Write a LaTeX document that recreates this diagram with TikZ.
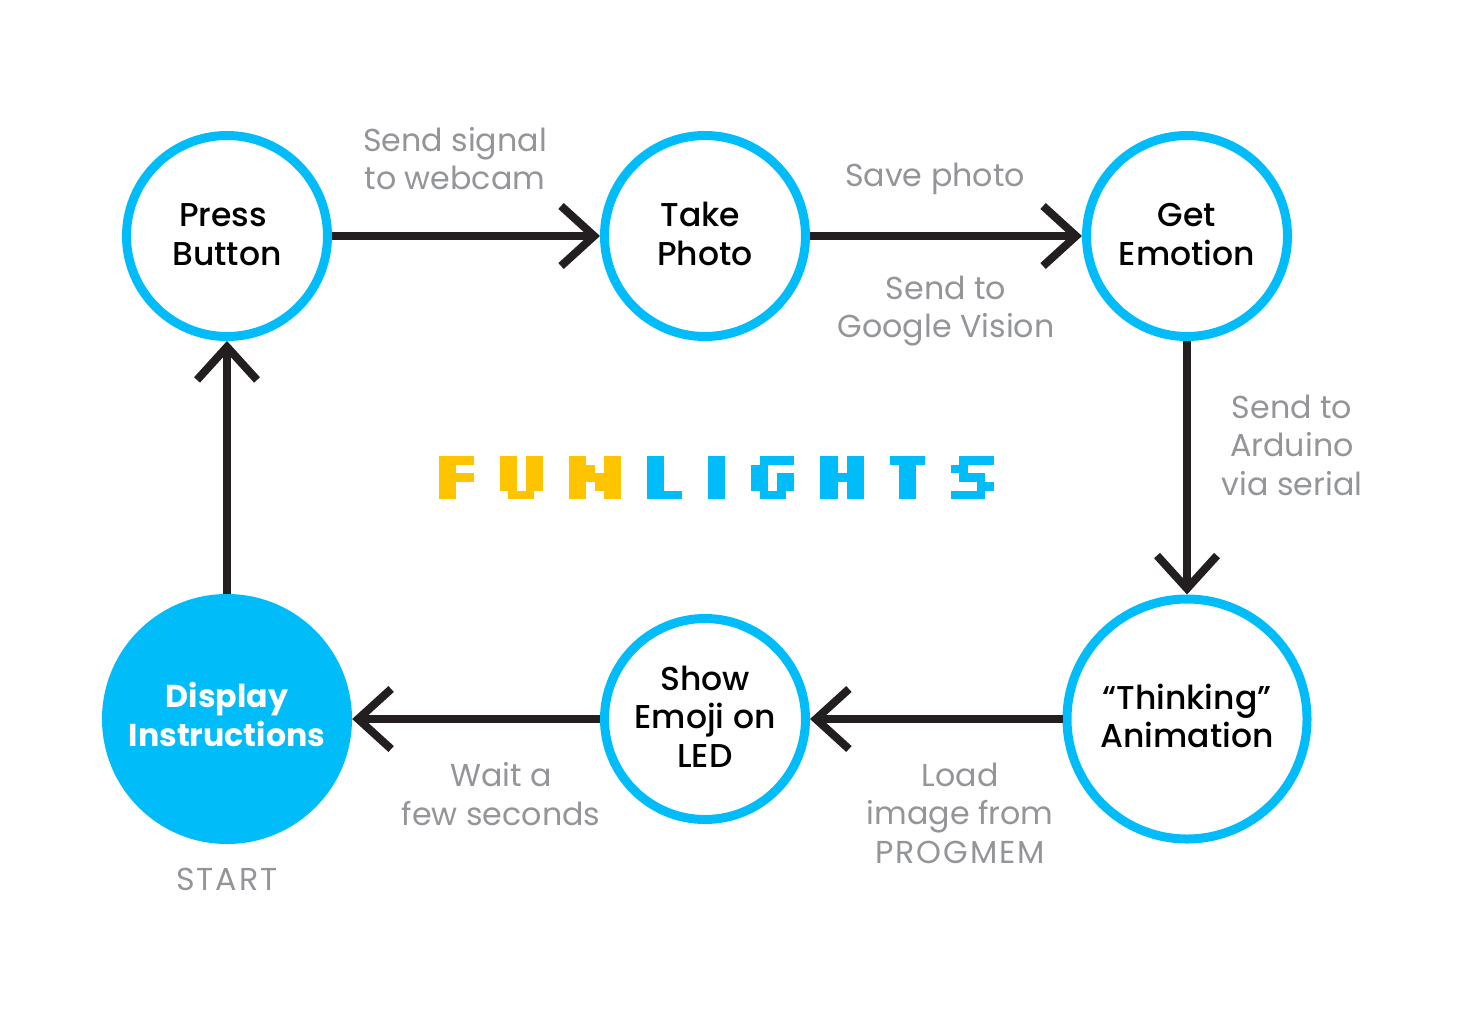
\documentclass[tikz,border=0pt]{standalone}
\usepackage{fontspec}
\setmainfont{Poppins}
\newfontfamily\medfont{Poppins Medium}
\usetikzlibrary{arrows.meta}
\definecolor{cy}{HTML}{00BDF9}
\definecolor{yel}{HTML}{FFC400}
\definecolor{ink}{HTML}{231F20}
\definecolor{lab}{HTML}{939598}
\newcommand{\lift}[2]{\raisebox{#1}[\height][\depth]{\begin{tabular}{@{}c@{}}#2\end{tabular}}}
\newcommand{\wide}[1]{{\addfontfeature{LetterSpace=6}#1}}
\tikzset{
  x=1pt,y=-1pt,
  st/.style={circle,draw=cy,line width=9pt,fill=white,inner sep=0pt,align=center,font=\fontsize{33}{38.5}\selectfont\medfont,text=black},
  small/.style={st,minimum size=201pt},
  big/.style={st,minimum size=240pt},
  startnode/.style={circle,fill=cy,draw=none,minimum size=250pt,inner sep=0pt,align=center,text=white,font=\fontsize{31.6}{38.5}\selectfont\bfseries},
  lbl/.style={align=center,text=lab,font=\fontsize{31.7}{38.5}\selectfont,inner sep=0pt},
  conn/.style={draw=ink,line width=8pt,-{Straight Barb[length=33pt,width=60pt,line width=8pt]}},
}
\newcommand{\px}[5]{\fill[#1,shift={(439,456)}] ({#2*8.67},{#3*8.67}) rectangle ({(#4+1)*8.67},{(#5+1)*8.67});}
\begin{document}
\begin{tikzpicture}
\useasboundingbox (0,0) rectangle (1463,1023);
\fill[white] (0,0) rectangle (1463,1023);
\node[small] (press) at (227,236) {\lift{-2.5pt}{Press\kern8pt\\Button}};
\node[small] (take) at (705,236) {\lift{-2.5pt}{Take\kern9pt\\Photo}};
\node[small] (get) at (1187,236) {\lift{-2.5pt}{Get\\Emotion}};
\node[big] (think) at (1187,719) {\lift{-2pt}{“Thinking”\\Animation}};
\node[small] (show) at (705,719) {\lift{-2pt}{Show\\Emoji on\\LED}};
\node[startnode] (disp) at (227,719) {\lift{-0.5pt}{Display\\Instructions}};
\draw[conn] (press) -- (take);
\draw[conn] (take) -- (get);
\draw[conn] (get) -- (think);
\draw[conn] (think) -- (show);
\draw[conn] (show) -- (disp);
\draw[conn] (disp) -- (press);
\node[lbl] (l1) at (455,158.5) {Send signal\\to webcam};
\node[lbl] (l2) at (935,179) {Save photo};
\node[lbl] (l3) at (946,311) {Send to\\Google Vision};
\node[lbl] (l4) at (1292,445) {Send to\\Arduino\\via serial};
\node[lbl] (l5) at (960,813) {Load\\image from\\\wide{PROGMEM}};
\node[lbl] (l6) at (501,794) {Wait a\\few seconds};
\node[lbl] (l7) at (227,879) {\wide{START}};
% F
\px{yel}{0}{0}{3}{0}\px{yel}{0}{1}{1}{4}\px{yel}{2}{2}{3}{2}
% U
\px{yel}{7}{0}{8}{3}\px{yel}{10}{0}{11}{3}\px{yel}{8}{4}{10}{4}
% N
\px{yel}{15}{0}{16}{4}\px{yel}{19}{0}{20}{4}\px{yel}{17}{1}{17}{2}\px{yel}{18}{2}{18}{3}
% L
\px{cy}{24}{0}{25}{4}\px{cy}{26}{4}{27}{4}
% I
\px{cy}{31}{0}{32}{4}
% G
\px{cy}{37}{0}{40}{0}\px{cy}{36}{1}{37}{3}\px{cy}{39}{2}{40}{3}\px{cy}{37}{4}{39}{4}
% H
\px{cy}{44}{0}{45}{4}\px{cy}{47}{0}{48}{4}\px{cy}{46}{2}{46}{2}
% T
\px{cy}{52}{0}{55}{0}\px{cy}{53}{1}{54}{4}
% S
\px{cy}{60}{0}{63}{0}\px{cy}{59}{1}{60}{1}\px{cy}{60}{2}{62}{2}\px{cy}{62}{3}{63}{3}\px{cy}{59}{4}{62}{4}
\end{tikzpicture}
\end{document}
